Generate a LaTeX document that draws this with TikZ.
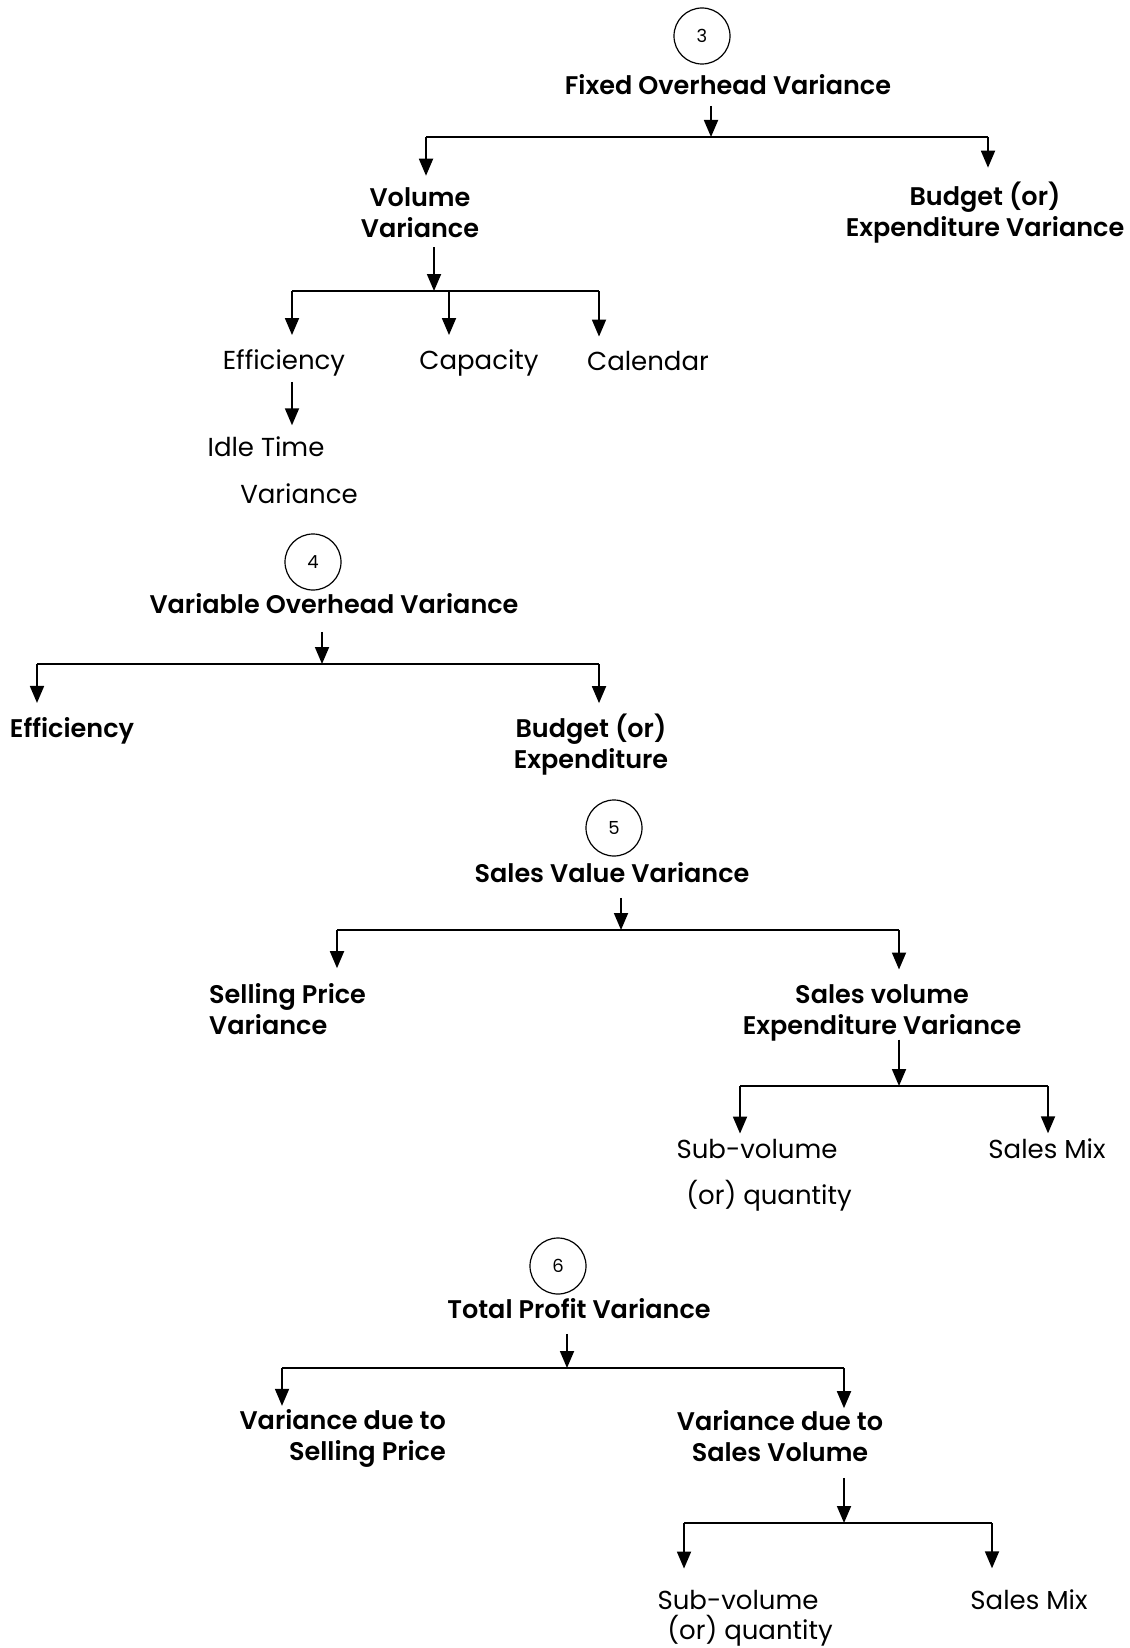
\documentclass[tikz,border=0pt]{standalone}
\usepackage{fontspec}
\setmainfont{Poppins}[BoldFont={Poppins SemiBold}]
\usetikzlibrary{arrows.meta}
\begin{document}
\begin{tikzpicture}[x=1pt,y=-1pt,
  lbl/.style={inner sep=0pt, align=center, font=\fontsize{26}{31}\selectfont},
  blbl/.style={inner sep=0pt, align=center, font=\fontsize{25.5}{31}\selectfont\bfseries},
  num/.style={circle, draw, line width=1.2pt, minimum size=56pt, inner sep=0pt, font=\fontsize{18}{18}\selectfont},
  ln/.style={line width=1.8pt},
  arr/.style={ln, -{Triangle[length=17pt,width=14pt]}},
]
\path[use as bounding box] (0,0) rectangle (1129,1648);

% ---------- 3 ----------
\node[num] (c3) at (702,36) {3};
\node[blbl] (t3) at (728,85) {Fixed Overhead Variance};
\coordinate (j3) at (711,137);
\coordinate (l3) at (426,137);
\coordinate (r3) at (988,137);
\node[blbl] (vol) at (420,212.5) {Volume\\Variance};
\node[blbl] (bud3) at (985,213) {Budget (or)\\Expenditure Variance};
\draw[arr] ([yshift=-10.5pt]t3.south -| j3) -- (j3);
\draw[ln] (l3) -- (r3);
\draw[arr] (l3) -- ([yshift=11.5pt]vol.north -| l3);
\draw[arr] (r3) -- ([yshift=14.5pt]bud3.north -| r3);

\coordinate (j3b) at (434,291);
\coordinate (l3b) at (292,291);
\coordinate (m3b) at (449,291);
\coordinate (r3b) at (599,291);
\node[lbl] (eff) at (284,363) {Efficiency};
\node[lbl] (cap) at (479,363) {Capacity};
\node[lbl] (cal) at (648,361) {Calendar};
\draw[arr] ([yshift=-9.5pt]vol.south -| j3b) -- (j3b);
\draw[ln] (l3b) -- (r3b);
\draw[arr] (l3b) -- ([yshift=14.5pt]eff.north -| l3b);
\draw[arr] (m3b) -- ([yshift=14.5pt]cap.north -| m3b);
\draw[arr] (r3b) -- ([yshift=14.5pt]cal.north -| r3b);

\node[lbl] (idle) at (266,447) {Idle Time};
\node[lbl] (idlev) at (299,494) {Variance};
\draw[arr] ([yshift=-5.5pt]eff.south -| l3b) -- ([yshift=11.5pt]idle.north -| l3b);

% ---------- 4 ----------
\node[num] (c4) at (313,562) {4};
\node[blbl] (t4) at (334,604) {Variable Overhead Variance};
\coordinate (j4) at (322,664);
\coordinate (l4) at (37,664);
\coordinate (r4) at (599,664);
\node[blbl] (eff4) at (72,731) {Efficiency};
\node[blbl] (bud4) at (591,745) {Budget (or)\\Expenditure};
\draw[arr] ([yshift=-17.5pt]t4.south -| j4) -- (j4);
\draw[ln] (l4) -- (r4);
\draw[arr] (l4) -- ([yshift=14.5pt]eff4.north -| l4);
\draw[arr] (r4) -- ([yshift=11pt]bud4.north -| r4);

% ---------- 5 ----------
\node[num] (c5) at (614,828) {5};
\node[blbl] (t5) at (612,873) {Sales Value Variance};
\coordinate (j5) at (621,930);
\coordinate (l5) at (337,930);
\coordinate (r5) at (899,930);
\node[blbl, align=left, anchor=west] (sp5) at (209,1009) {Selling Price\\Variance};
\node[blbl] (sv5) at (882,1013) {Sales volume\\Expenditure Variance};
\draw[arr] ([yshift=-14.5pt]t5.south -| j5) -- (j5);
\draw[ln] (l5) -- (r5);
\draw[arr] (l5) -- ([yshift=15pt]sp5.north -| l5);
\draw[arr] (r5) -- ([yshift=15pt]sv5.north -| r5);

\coordinate (j5b) at (899,1086);
\coordinate (l5b) at (740,1086);
\coordinate (r5b) at (1048,1086);
\node[lbl] (sub5) at (757,1149) {Sub-volume};
\node[lbl] (subq5) at (769,1196) {(or) quantity};
\node[lbl] (mix5) at (1047,1149) {Sales Mix};
\draw[arr] ([yshift=2pt]sv5.south -| j5b) -- (j5b);
\draw[ln] (l5b) -- (r5b);
\draw[arr] (l5b) -- ([yshift=5.5pt]sub5.north -| l5b);
\draw[arr] (r5b) -- ([yshift=5.5pt]mix5.north -| r5b);

% ---------- 6 ----------
\node[num] (c6) at (558,1266) {6};
\node[blbl] (t6) at (579,1309) {Total Profit Variance};
\coordinate (j6) at (567,1368);
\coordinate (l6) at (282,1368);
\coordinate (r6) at (844,1368);
\node[blbl, align=right, anchor=east] (vsp6) at (446,1438) {Variance due to\\Selling Price};
\node[blbl] (vsv6) at (780,1436) {Variance due to\\Sales Volume};
\draw[arr] ([yshift=-14.5pt]t6.south -| j6) -- (j6);
\draw[ln] (l6) -- (r6);
\draw[arr] (l6) -- ([yshift=3pt]vsp6.north -| l6);
\draw[arr] (r6) -- ([yshift=2pt]vsv6.north -| r6);

\coordinate (j6b) at (844,1523);
\coordinate (l6b) at (684,1523);
\coordinate (r6b) at (992,1523);
\node[lbl] (sub6) at (738,1600) {Sub-volume};
\node[lbl] (subq6) at (750,1631) {(or) quantity};
\node[lbl] (mix6) at (1029,1600) {Sales Mix};
\draw[arr] ([yshift=-16pt]vsv6.south -| j6b) -- (j6b);
\draw[ln] (l6b) -- (r6b);
\draw[arr] (l6b) -- ([yshift=21.5pt]sub6.north -| l6b);
\draw[arr] (r6b) -- ([yshift=21.5pt]mix6.north -| r6b);
\end{tikzpicture}
\end{document}
